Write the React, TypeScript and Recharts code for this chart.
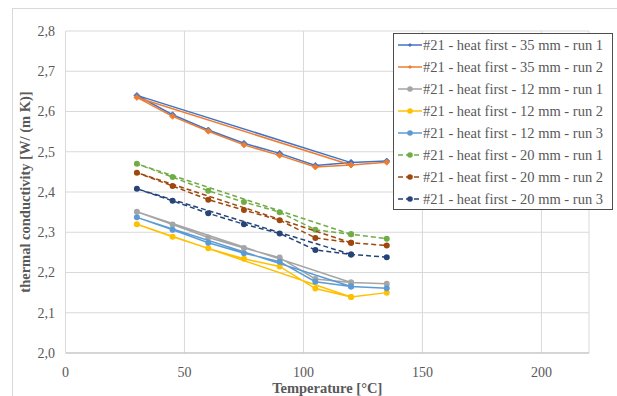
import React from 'react';
import { ScatterChart, Scatter, XAxis, YAxis, CartesianGrid, Legend, Label } from 'recharts';

// Measurement order: first point at 120 °C, then 30 → 135 °C
const temps = [120, 30, 45, 60, 75, 90, 105, 120, 135];

const s35r1 = [2.473, 2.640, 2.592, 2.554, 2.521, 2.496, 2.466, 2.473, 2.477];
const s35r2 = [2.467, 2.635, 2.588, 2.551, 2.517, 2.491, 2.462, 2.467, 2.474];
const s12r1 = [2.175, 2.351, 2.319, 2.287, 2.261, 2.237, 2.184, 2.175, 2.172];
const s12r2 = [2.139, 2.320, 2.289, 2.260, 2.234, 2.215, 2.160, 2.139, 2.150];
const s12r3 = [2.165, 2.337, 2.306, 2.274, 2.248, 2.227, 2.177, 2.165, 2.161];
const s20r1 = [2.295, 2.470, 2.437, 2.403, 2.375, 2.350, 2.306, 2.295, 2.284];
const s20r2 = [2.274, 2.448, 2.415, 2.381, 2.355, 2.330, 2.286, 2.274, 2.267];
const s20r3 = [2.245, 2.408, 2.378, 2.347, 2.320, 2.297, 2.256, 2.245, 2.238];

const seriesNames = [
  '#21 - heat first - 35 mm - run 1',
  '#21 - heat first - 35 mm - run 2',
  '#21 - heat first - 12 mm - run 1',
  '#21 - heat first - 12 mm - run 2',
  '#21 - heat first - 12 mm - run 3',
  '#21 - heat first - 20 mm - run 1',
  '#21 - heat first - 20 mm - run 2',
  '#21 - heat first - 20 mm - run 3',
];
const seriesValues = [s35r1, s35r2, s12r1, s12r2, s12r3, s20r1, s20r2, s20r3];
const seriesColors = ['#4472C4', '#ED7D31', '#A5A5A5', '#FFC000', '#5B9BD5', '#70AD47', '#9E480E', '#264478'];
const seriesDashed = [false, false, false, false, false, true, true, true];
const seriesMarker = ['diamond', 'diamond', 'circle', 'circle', 'circle', 'circle', 'circle', 'circle'];

const xTicks = [0, 50, 100, 150, 200];
const yTicks = [2.0, 2.1, 2.2, 2.3, 2.4, 2.5, 2.6, 2.7, 2.8];

const FONT = '"Liberation Serif", "Times New Roman", serif';
const TEXT = '#595959';

const makeShape = (color: string, kind: string) => (props: any) => {
  const { cx, cy } = props;
  if (cx == null || cy == null) return <g />;
  if (kind === 'diamond') {
    const s = 3;
    return <polygon points={`${cx},${cy - s} ${cx + s},${cy} ${cx},${cy + s} ${cx - s},${cy}`} fill={color} stroke={color} strokeWidth={0.8} />;
  }
  return <circle cx={cx} cy={cy} r={3} fill={color} />;
};

const renderLegend = () => (
  <div
    style={{
      boxSizing: 'border-box',
      width: 220,
      height: 177,
      border: '1px solid #4d4d4d',
      background: '#fff',
      paddingTop: 0,
      fontFamily: FONT,
      fontSize: 14.5,
      color: TEXT,
    }}
  >
    {seriesNames.map((name, i) => (
      <div key={name} style={{ height: 22, display: 'flex', alignItems: 'center', whiteSpace: 'nowrap' }}>
        <svg width={29} height={10} style={{ flex: 'none' }}>
          <line x1={4} y1={5} x2={28} y2={5} stroke={seriesColors[i]} strokeWidth={1.5} strokeDasharray={seriesDashed[i] ? '5 3' : undefined} />
          {seriesMarker[i] === 'diamond' ? (
            <polygon points="16,3 18,5 16,7 14,5" fill={seriesColors[i]} />
          ) : (
            <circle cx={16} cy={5} r={2.8} fill={seriesColors[i]} />
          )}
        </svg>
        <span>{name}</span>
      </div>
    ))}
  </div>
);

export default function App() {
  const seriesData = seriesValues.map((vals) => temps.map((t, i) => ({ x: t, y: vals[i] })));
  return (
    <div style={{ position: 'absolute', left: 0, top: 0, width: 617, height: 396, background: '#fff', overflow: 'hidden' }}>
      <div
        style={{
          position: 'absolute',
          left: 12,
          top: 8,
          width: 700,
          height: 500,
          borderLeft: '1px solid #d9d9d9',
          borderTop: '1px solid #d9d9d9',
        }}
      />
      <div style={{ position: 'absolute', left: 0, top: 0 }}>
        <ScatterChart width={617} height={396} margin={{ top: 31, right: 28, left: 0, bottom: 0 }}>
          <CartesianGrid stroke="#d9d9d9" strokeWidth={1} />
          <XAxis
            type="number"
            dataKey="x"
            domain={[0, 220]}
            ticks={xTicks}
            interval={0}
            height={43}
            tickLine={false}
            tickMargin={8}
            axisLine={{ stroke: '#bfbfbf' }}
            tick={{ fill: TEXT, fontSize: 14, fontFamily: FONT }}
          >
            <Label
              value="Temperature [°C]"
              position="insideBottom"
              offset={3}
              style={{ fill: TEXT, fontSize: 14.5, fontWeight: 'bold', fontFamily: FONT }}
            />
          </XAxis>
          <YAxis
            type="number"
            dataKey="y"
            domain={[2.0, 2.8]}
            ticks={yTicks}
            interval={0}
            width={65.5}
            tickLine={false}
            tickMargin={4.5}
            axisLine={{ stroke: '#d9d9d9' }}
            tickFormatter={(v: number) => v.toFixed(1).replace('.', ',')}
            tick={{ fill: TEXT, fontSize: 14, fontFamily: FONT }}
          >
            <Label
              value="thermal conductivity [W/ (m K)]"
              position="insideLeft"
              angle={-90}
              offset={25}
              style={{ fill: TEXT, fontSize: 14.5, fontWeight: 'bold', fontFamily: FONT, textAnchor: 'middle' }}
            />
          </YAxis>
          {seriesData.map((d, i) => (
            <Scatter
              key={seriesNames[i]}
              name={seriesNames[i]}
              data={d}
              fill={seriesColors[i]}
              line={{ stroke: seriesColors[i], strokeWidth: 1.5, strokeDasharray: seriesDashed[i] ? '5 3' : undefined }}
              lineJointType="linear"
              shape={makeShape(seriesColors[i], seriesMarker[i])}
              isAnimationActive={false}
            />
          ))}
          <Legend
            layout="horizontal"
            verticalAlign="middle"
            align="center"
            content={renderLegend}
            wrapperStyle={{ left: 393, top: 33, width: 220, height: 177 }}
          />
        </ScatterChart>
      </div>
    </div>
  );
}
